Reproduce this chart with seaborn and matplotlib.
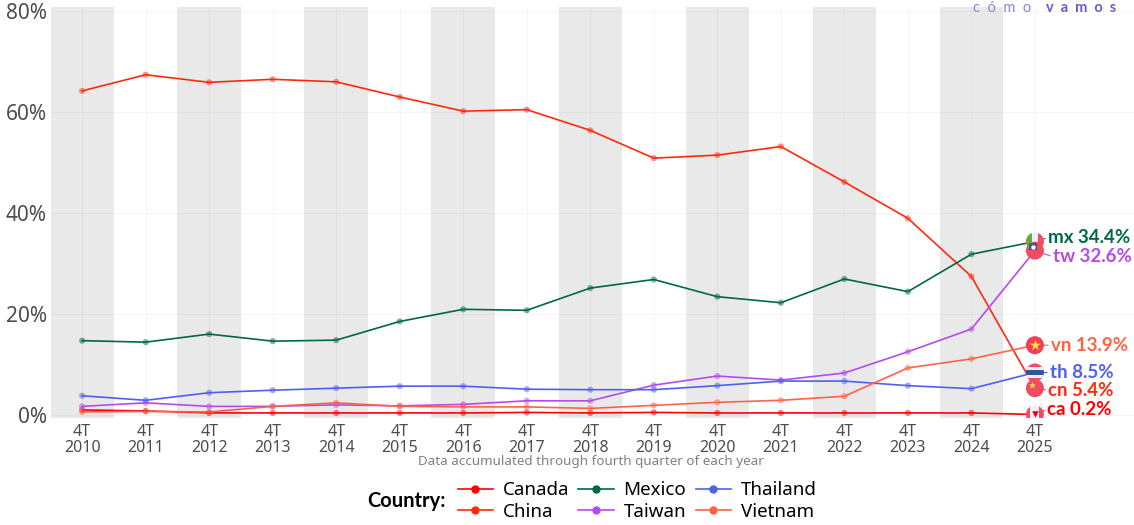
import numpy as np
import pandas as pd
import seaborn as sns
import matplotlib.pyplot as plt
from matplotlib.lines import Line2D
from matplotlib.patches import Ellipse, Rectangle

years = list(range(2010, 2026))
canada = [1.1, 0.9, 0.5, 0.5, 0.5, 0.5, 0.5, 0.6, 0.5, 0.6, 0.5, 0.5, 0.5, 0.5, 0.5, 0.2]
china = [64.2, 67.4, 65.9, 66.5, 66.0, 63.0, 60.2, 60.5, 56.4, 50.9, 51.5, 53.2, 46.2, 39.0, 27.5, 5.4]
mexico = [14.8, 14.5, 16.1, 14.7, 14.9, 18.6, 21.0, 20.8, 25.2, 26.9, 23.5, 22.3, 27.0, 24.5, 31.9, 34.4]
taiwan = [1.8, 2.5, 1.8, 1.8, 2.1, 1.9, 2.2, 2.9, 2.9, 6.0, 7.8, 7.0, 8.4, 12.6, 17.1, 32.6]
thailand = [3.9, 3.0, 4.5, 5.0, 5.4, 5.8, 5.8, 5.2, 5.1, 5.1, 5.9, 6.8, 6.8, 5.9, 5.3, 8.5]
vietnam = [0.7, 0.8, 0.7, 1.8, 2.5, 1.8, 1.7, 1.7, 1.4, 2.0, 2.6, 3.0, 3.8, 9.4, 11.2, 13.9]

countries = ['Canada', 'China', 'Mexico', 'Taiwan', 'Thailand', 'Vietnam']
codes = ['ca', 'cn', 'mx', 'tw', 'th', 'vn']
colors = ['#ff0000', '#ff2a0d', '#006847', '#b44cec', '#4f5ff2', '#ff6347']
series = [canada, china, mexico, taiwan, thailand, vietnam]
tick_labels = ['4T\n%d' % y for y in years]
band_years = years[::2]

df = pd.DataFrame({'year': years * 6,
                   'country': np.repeat(countries, 16),
                   'share': sum(series, [])})
palette = dict(zip(countries, colors))

plt.rcParams['font.family'] = ['Noto Sans', 'DejaVu Sans']
fig = plt.figure(figsize=(11.34, 5.25), dpi=100)
ax = fig.add_axes([51 / 1134, 1 - 418 / 525, 1083 / 1134, 411 / 525])

for y in band_years:
    ax.axvspan(y - 0.5, y + 0.5, color='#e9e9e9', lw=0, zorder=0)

sns.lineplot(data=df, x='year', y='share', hue='country', palette=palette, hue_order=countries,
             lw=1.2, legend=False, ax=ax, zorder=3)
sns.scatterplot(data=df, x='year', y='share', hue='country', palette=palette, hue_order=countries,
                s=20, alpha=0.5, linewidth=0, legend=False, ax=ax, zorder=4)

ax.set_xlim(2009.51, 2026.56)
ax.set_ylim(-0.5, 80.8)
ax.set_xticks(years)
ax.set_xticklabels(tick_labels, fontsize=11.5, color='#4d4d4d', linespacing=1.05)
ax.set_yticks([0, 20, 40, 60, 80])
ax.set_yticklabels(['0%', '20%', '40%', '60%', '80%'], fontsize=15, color='#4d4d4d')
ax.tick_params(length=0)
ax.tick_params(axis='x', pad=4)
ax.tick_params(axis='y', pad=3)
ax.grid(color='#000000', alpha=0.035, lw=0.8)
ax.set_axisbelow(True)
ax.set_xlabel('')
ax.set_ylabel('')
for s in ax.spines.values():
    s.set_visible(False)

# flags are little ellipses in data units, 9 px radius on screen
rx, ry = 9 / 63.53, 9 / 5.05


def flag(y, base, stripes=(), vertical=(), star=None):
    x = years[-1]
    circ = Ellipse((x, y), 2 * rx, 2 * ry, color=base, lw=0, zorder=6)
    ax.add_patch(circ)
    for y0, y1, c in stripes:
        r = Rectangle((x - rx, y + y0 * ry), 2 * rx, (y1 - y0) * ry, color=c, lw=0, zorder=6.1)
        ax.add_patch(r)
        r.set_clip_path(circ)
    for x0, x1, c in vertical:
        r = Rectangle((x + x0 * rx, y - ry), (x1 - x0) * rx, 2 * ry, color=c, lw=0, zorder=6.1)
        ax.add_patch(r)
        r.set_clip_path(circ)
    if star:
        ax.scatter([x + star[0] * rx], [y + star[1] * ry], marker='*', s=star[2], color='#ffda44', lw=0, zorder=6.2)


flag(mexico[-1], '#f0f0f0', vertical=[(-1, -0.35, '#6da544'), (0.35, 1, '#ee4d63')])
flag(taiwan[-1], '#ee4d63')
ax.add_patch(Rectangle((years[-1] - rx * 0.62, taiwan[-1] + 0.1), rx * 0.9, ry * 0.75, color='#2f5f9e', lw=0, zorder=6.3))
ax.scatter([years[-1] - rx * 0.18], [taiwan[-1] + 0.1 + ry * 0.37], s=10, color='white', lw=0, zorder=6.4)
flag(vietnam[-1], '#ee3f56', star=(0, 0, 70))
flag(china[-1], '#ee4d63', star=(-0.35, 0.3, 30))
flag(thailand[-1], '#ee4d63', stripes=[(-0.6, 0.6, '#f0f0f0'), (-0.33, 0.33, '#2d5a94')])
flag(canada[-1], '#f0f0f0', vertical=[(-1, -0.5, '#ee4d63'), (0.5, 1, '#ee4d63')])
ax.scatter([years[-1]], [canada[-1]], marker='v', s=22, color='#d80027', lw=0, zorder=6.2)

# end labels, pixel offsets from the last point
offsets = {'ca': (12, 5), 'cn': (13, -2), 'mx': (13, 4), 'tw': (18, -6), 'th': (15, 0), 'vn': (16, 0)}
pts = 72 / 100
for code, name, vals in zip(codes, countries, series):
    dx, dy = offsets[code]
    c = palette[name]
    ax.annotate('%s %.1f%%' % (code, vals[-1]), (years[-1], vals[-1]),
                xytext=(dx * pts, dy * pts), textcoords='offset points', va='center', ha='left',
                fontsize=13.5, fontweight='bold', family='Lato', color=c, zorder=5, annotation_clip=False,
                arrowprops=dict(arrowstyle='-', color=c, lw=0.8, shrinkA=0, shrinkB=0, relpos=(0, 0.5)))

fig.text(591 / 1134, 1 - 461 / 525, 'Data accumulated through fourth quarter of each year',
         ha='center', va='center', fontsize=9.7, color='#808080')

# logo
fig.text(973 / 1134, 1 - 8 / 525, 'c  ó  m  o', ha='left', va='center', fontsize=10.5, color='#8f84d8', family='Lato')
fig.text(1046 / 1134, 1 - 8 / 525, 'v  a  m  o  s', ha='left', va='center', fontsize=10.5,
         fontweight='bold', color='#6a5acd', family='Lato')

handles = [Line2D([], [], color=c, lw=1.2, marker='o', ms=5) for c in colors]
leg = fig.legend(handles, countries, ncol=3, loc='center', bbox_to_anchor=(637 / 1134, 1 - 501 / 525),
                 frameon=False, fontsize=13.5, handlelength=1.9, handletextpad=0.5, columnspacing=0.5,
                 labelspacing=0.2, borderpad=0)
fig.text(406 / 1134, 1 - 501 / 525, 'Country:', ha='center', va='center', fontsize=14.5, fontweight='bold', family='Lato')

fig.savefig('out.png', dpi=100)
